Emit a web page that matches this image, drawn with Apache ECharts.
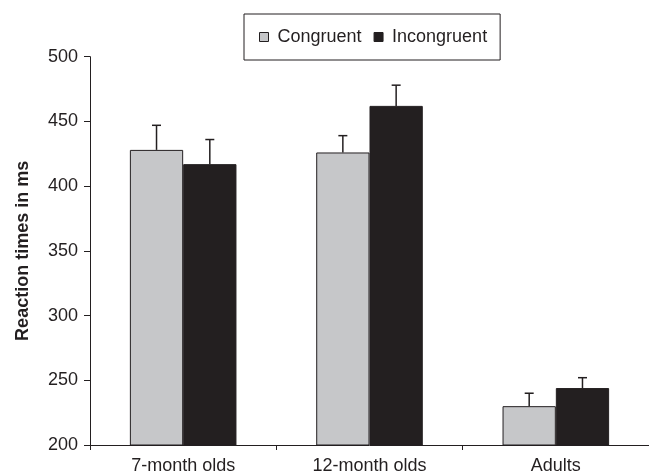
<!DOCTYPE html>
<html>
<head>
<meta charset="utf-8">
<script src="https://cdn.jsdelivr.net/npm/echarts@6/dist/echarts.min.js"></script>
<style>html,body{margin:0;padding:0;background:#fff;}#chart{width:649px;height:475px;}</style>
</head>
<body>
<div id="chart"></div>
<script>
var categories = ['7-month olds', '12-month olds', 'Adults'];
var congruent = [428, 426, 230];
var incongruent = [417, 462, 244];
var congruentErr = [19, 13, 10];
var incongruentErr = [19, 16, 8];
var yTicks = [200, 250, 300, 350, 400, 450, 500];

var dark = '#231f20';
var gray = '#c6c7c9';
var FONT = 'Liberation Sans, Arial, sans-serif';
var BAR_FRAC = 0.286;

function errSeries(name, means, errs, sign) {
  var data = means.map(function (m, i) { return [i, m, m + errs[i]]; });
  return {
    type: 'custom',
    name: name + ' error',
    z: 5,
    silent: true,
    data: data,
    encode: { x: 0, y: [1, 2] },
    renderItem: function (params, api) {
      var idx = api.value(0);
      var band = api.size([1, 0])[0];
      var off = sign * band * BAR_FRAC / 2;
      var p0 = api.coord([idx, api.value(1)]);
      var p1 = api.coord([idx, api.value(2)]);
      var x = p0[0] + off;
      var style = { stroke: dark, lineWidth: 1.5 };
      return {
        type: 'group',
        children: [
          { type: 'line', shape: { x1: x, y1: p0[1], x2: x, y2: p1[1] }, style: style },
          { type: 'line', shape: { x1: x - 4.5, y1: p1[1], x2: x + 4.5, y2: p1[1] }, style: style }
        ]
      };
    }
  };
}

var chart = echarts.init(document.getElementById('chart'));
chart.setOption({
  animation: false,
  backgroundColor: '#ffffff',
  textStyle: { fontFamily: FONT },
  legend: {
    data: ['Congruent', 'Incongruent'],
    left: 244,
    top: 14,
    padding: [14, 13, 14, 15],
    borderColor: dark,
    borderWidth: 1,
    itemWidth: 9,
    itemHeight: 9,
    itemGap: 12,
    icon: 'rect',
    itemStyle: { borderColor: dark, borderWidth: 1 },
    textStyle: { fontSize: 18, color: dark, fontFamily: FONT, padding: [0, 0, 0, 4] }
  },
  grid: { left: 90, right: 0, top: 56.7, bottom: 28.3, containLabel: false },
  xAxis: {
    type: 'category',
    data: categories,
    boundaryGap: true,
    axisLine: { show: true, lineStyle: { color: dark, width: 1 } },
    axisTick: { show: true, alignWithLabel: false, length: 5, inside: false, lineStyle: { color: dark } },
    axisLabel: { fontSize: 18, color: dark, margin: 12, fontFamily: FONT },
    splitLine: { show: false }
  },
  yAxis: {
    type: 'value',
    min: yTicks[0],
    max: yTicks[yTicks.length - 1],
    interval: yTicks[1] - yTicks[0],
    name: 'Reaction times in ms',
    nameLocation: 'middle',
    nameGap: 58,
    nameRotate: 90,
    nameTextStyle: { fontSize: 18, fontWeight: 'bold', color: dark, fontFamily: FONT },
    axisLine: { show: true, lineStyle: { color: dark, width: 1 } },
    axisTick: { show: true, length: 6, lineStyle: { color: dark } },
    axisLabel: { fontSize: 18, color: dark, margin: 12, fontFamily: FONT },
    splitLine: { show: false }
  },
  series: [
    {
      name: 'Congruent',
      type: 'bar',
      data: congruent,
      barWidth: (BAR_FRAC * 100) + '%',
      barGap: '0%',
      itemStyle: { color: gray, borderColor: dark, borderWidth: 1 }
    },
    {
      name: 'Incongruent',
      type: 'bar',
      data: incongruent,
      barWidth: (BAR_FRAC * 100) + '%',
      barGap: '0%',
      itemStyle: { color: dark, borderColor: dark, borderWidth: 1 }
    },
    errSeries('Congruent', congruent, congruentErr, -1),
    errSeries('Incongruent', incongruent, incongruentErr, 1)
  ]
});
</script>
</body>
</html>
